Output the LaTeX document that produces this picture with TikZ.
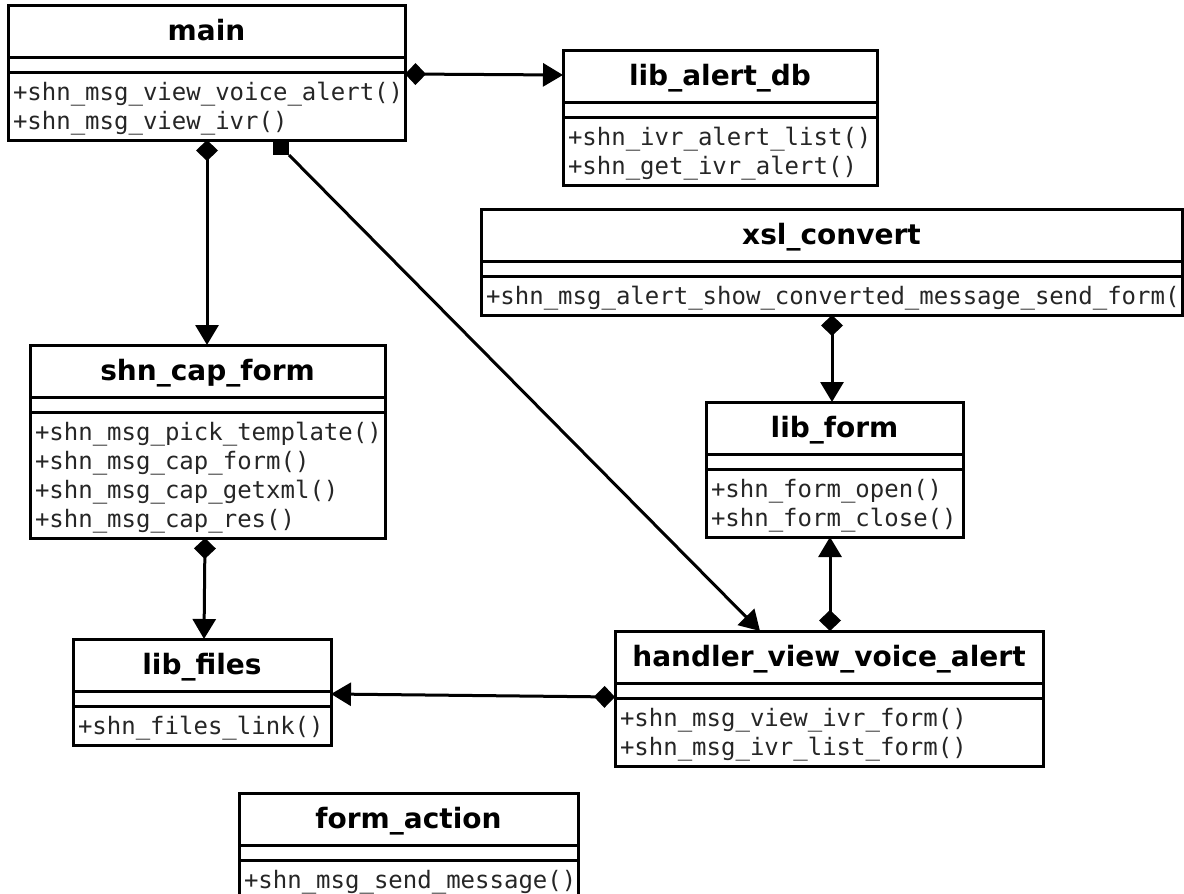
\documentclass[tikz,border=0pt]{standalone}
\usepackage{fontspec}
\newfontfamily\umltitle{DejaVu Sans}
\newfontfamily\umlmono{DejaVu Sans Mono}
\usetikzlibrary{arrows.meta}
\tikzset{
  classbox/.style={draw=black, line width=3pt, inner sep=0pt, outer sep=0pt, rectangle},
  sepline/.style={line width=3pt},
  titletext/.style={inner sep=0pt, outer sep=0pt, font=\umltitle\bfseries\fontsize{28}{32}\selectfont},
  methodtext/.style={inner sep=0pt, outer sep=0pt, font=\umlmono\fontsize{24}{29}\selectfont, text=black!85},
  conn/.style={line width=3pt},
  comp/.style={conn, {Diamond[length=21pt,width=22pt]}-{Triangle[length=20pt,width=23pt]}},
  assoc/.style={conn, -{Triangle[length=20pt,width=23pt]}},
}
\newcommand{\umlclass}[7]{%
  \pgfmathsetmacro{\umlh}{77+29*#5}%
  \node[classbox, minimum width=#4pt, minimum height=\umlh pt, anchor=north west] (#1) at (#2,#3) {};
  \draw[sepline] ([yshift=-52pt]#1.north west) -- ([yshift=-52pt]#1.north east);
  \draw[sepline] ([yshift=-67pt]#1.north west) -- ([yshift=-67pt]#1.north east);
  \node[titletext, anchor=base] (#1-title) at ([yshift=-35pt]#1.north) {#6};
  \begin{scope}
    \clip ([xshift=1.5pt]#1.north west) rectangle ([xshift=-1.5pt]#1.south east);
    \foreach \m [count=\i] in {#7} {
      \node[methodtext, anchor=base west] (#1-m\i) at ([xshift=5pt,yshift={-95pt-29pt*(\i-1)}]#1.north west) {\m};
    }
  \end{scope}
}
\begin{document}
\begin{tikzpicture}[x=1pt,y=-1pt]
\useasboundingbox (0,0) rectangle (1184,894);
\clip (0,0) rectangle (1184,894);
\fill[white] (0,0) rectangle (1184,894);

\umlclass{main}{8}{5}{397}{2}{main}{+shn\_msg\_view\_voice\_alert(),+shn\_msg\_view\_ivr()}
\umlclass{alertdb}{563}{50}{314}{2}{lib\_alert\_db}{+shn\_ivr\_alert\_list(),+shn\_get\_ivr\_alert()}
\umlclass{xsl}{481}{209}{701}{1}{xsl\_convert}{+shn\_msg\_alert\_show\_converted\_message\_send\_form()}
\umlclass{capform}{30}{345}{355}{4}{shn\_cap\_form}{+shn\_msg\_pick\_template(),+shn\_msg\_cap\_form(),+shn\_msg\_cap\_getxml(),+shn\_msg\_cap\_res()}
\umlclass{libform}{706}{402}{257}{2}{lib\_form}{+shn\_form\_open(),+shn\_form\_close()}
\umlclass{libfiles}{73}{639}{258}{1}{lib\_files}{+shn\_files\_link()}
\umlclass{handler}{615}{631}{428}{2}{handler\_view\_voice\_alert}{+shn\_msg\_view\_ivr\_form(),+shn\_msg\_ivr\_list\_form()}
\umlclass{formaction}{239}{793}{339}{1}{form\_action}{+shn\_msg\_send\_message()}

% connectors
\draw[comp] ([yshift=-69pt]main.north east) -- ([yshift=-25pt]alertdb.north west);
\draw[comp] ([xshift=199pt]main.south west) -- ([xshift=177pt]capform.north west);
\node[fill=black, minimum width=16pt, minimum height=15pt, inner sep=0pt, outer sep=0pt, anchor=north] (sq) at ([xshift=273pt]main.south west) {};
\draw[assoc] (sq.south east) -- ([xshift=145pt]handler.north west);
\draw[comp] ([xshift=351pt]xsl.south west) -- ([xshift=126pt]libform.north west);
\draw[comp] ([xshift=215pt]handler.north west) -- ([xshift=124pt]libform.south west);
\draw[comp] ([xshift=175pt]capform.south west) -- ([xshift=131pt]libfiles.north west);
\draw[comp] ([yshift=-66pt]handler.north west) -- ([yshift=-55pt]libfiles.north east);
\end{tikzpicture}
\end{document}
